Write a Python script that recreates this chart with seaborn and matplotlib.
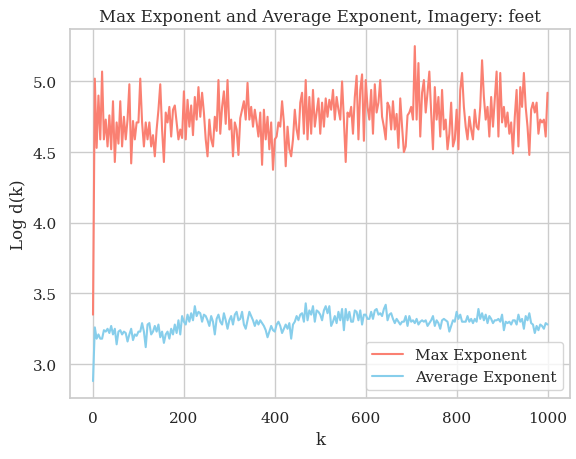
import numpy as np
import pandas as pd
import seaborn as sns
import matplotlib
matplotlib.use("Agg")
import matplotlib.pyplot as plt

# values, one every 4 steps of k
max_exp = [
    # k 0-96
    3.35, 5.02, 4.53, 4.90, 4.59, 5.07, 4.59, 4.73, 4.54, 4.76, 4.52, 4.86, 4.43,
    4.71, 4.56, 4.86, 4.54, 4.75, 4.59, 4.73, 4.98, 4.42, 4.72, 4.59, 4.71,
    # k 100-196
    4.71, 5.02, 4.71, 4.54, 4.71, 4.59, 4.71, 4.54, 4.62, 4.47, 4.66, 4.80, 4.98,
    4.66, 4.43, 4.78, 4.71, 4.82, 4.61, 4.80, 4.83, 4.71, 4.59, 4.66, 4.60,
    # k 200-296
    4.93, 4.59, 4.87, 4.68, 4.83, 4.62, 4.89, 4.73, 4.96, 4.75, 4.92, 4.78, 4.59,
    4.47, 4.73, 4.59, 4.54, 4.75, 4.65, 5.01, 4.63, 4.82, 4.93, 4.70, 5.01,
    # k 300-656
    4.66, 4.73, 4.47, 4.71, 4.66, 4.48, 4.74, 4.80, 4.86, 4.73, 4.99, 4.73, 4.82,
    4.68, 4.80, 4.71, 4.61, 4.78, 4.41, 4.80, 4.59, 4.75, 4.52, 4.71, 4.375,
    4.59, 4.61, 4.71, 4.68, 4.86, 4.71, 4.40, 4.68, 4.52, 4.47, 4.59, 4.80, 4.66,
    4.59, 4.85, 4.92, 4.63, 5.01, 4.59, 4.89, 4.63, 4.94, 4.68, 4.78, 4.88,
    4.63, 4.85, 4.68, 4.88, 4.75, 4.87, 4.80, 4.94, 4.73, 4.89, 4.80, 4.73, 5.00,
    4.73, 4.43, 4.78, 4.75, 4.82, 4.63, 4.89, 5.04, 4.59, 4.94, 5.05, 4.58,
    5.01, 4.82, 4.73, 4.94, 4.63, 4.98, 4.78, 4.85, 5.01, 4.75, 4.68, 4.59, 4.85,
    4.82, 4.66,
    # k 660-1000
    4.86, 4.66, 4.77, 4.53, 4.88, 4.68, 4.50, 4.54, 4.76, 4.78, 4.82, 4.73, 5.25,
    4.73, 5.13, 4.61, 4.92, 5.01, 4.78, 4.92, 5.07, 4.78, 4.52, 4.96, 4.73,
    4.89, 4.61, 4.94, 4.66, 4.73, 4.52, 4.63, 4.85, 4.54, 4.59, 4.80, 4.52, 4.94,
    5.06, 4.82, 4.68, 4.59, 4.75, 4.66, 4.59, 4.80, 4.68, 4.66, 4.82, 5.15,
    4.89, 4.73, 4.82, 4.61, 4.89, 4.68, 4.87, 5.07, 4.61, 5.06, 4.71, 4.82, 4.68,
    4.78, 4.63, 4.71, 4.49, 4.75, 4.94, 4.54, 4.96, 4.82, 5.06, 4.82, 4.68,
    4.48, 4.80, 4.85, 4.78, 4.85, 4.63, 4.73, 4.71, 4.73, 4.61, 4.92,
]

avg_exp = [
    # k 0-524
    2.88, 3.26, 3.18, 3.21, 3.18, 3.18, 3.24, 3.23, 3.25, 3.22, 3.27, 3.21, 3.25,
    3.14, 3.23, 3.24, 3.21, 3.23, 3.22, 3.16, 3.21, 3.25, 3.17, 3.21, 3.20,
    3.23, 3.23, 3.29, 3.23, 3.12, 3.28, 3.29, 3.21, 3.23, 3.27, 3.23, 3.28, 3.19,
    3.23, 3.15, 3.21, 3.23, 3.18, 3.25, 3.21, 3.28, 3.22, 3.31, 3.21, 3.34,
    3.30, 3.28, 3.35, 3.30, 3.36, 3.31, 3.41, 3.34, 3.37, 3.36, 3.30, 3.35, 3.34,
    3.31, 3.27, 3.34, 3.30, 3.21, 3.32, 3.35, 3.30, 3.28, 3.36, 3.31, 3.25,
    3.31, 3.34, 3.28, 3.35, 3.37, 3.31, 3.32, 3.37, 3.28, 3.25, 3.31, 3.37, 3.34,
    3.31, 3.27, 3.31, 3.28, 3.31, 3.29, 3.27, 3.24, 3.19, 3.23, 3.27, 3.24,
    3.23, 3.28, 3.30, 3.27, 3.22, 3.25, 3.28, 3.25, 3.29, 3.18, 3.28, 3.30, 3.34,
    3.31, 3.35, 3.36, 3.30, 3.43, 3.31, 3.38, 3.35, 3.41, 3.30, 3.38, 3.37,
    3.35, 3.31, 3.38, 3.41, 3.36, 3.41, 3.27,
    # k 528-1000
    3.30, 3.34, 3.29, 3.37, 3.31, 3.39, 3.24, 3.39, 3.31, 3.37, 3.30, 3.30, 3.38,
    3.37, 3.31, 3.38, 3.28, 3.35, 3.35, 3.32, 3.32, 3.37, 3.32, 3.38, 3.39,
    3.35, 3.36, 3.34, 3.39, 3.42, 3.31, 3.35, 3.36, 3.32, 3.29, 3.32, 3.30, 3.28,
    3.30, 3.30, 3.34, 3.27, 3.34, 3.30, 3.31, 3.29, 3.32, 3.28, 3.30, 3.31,
    3.30, 3.31, 3.27, 3.29, 3.31, 3.34, 3.27, 3.31, 3.29, 3.25, 3.31, 3.32, 3.31,
    3.30, 3.23, 3.27, 3.31, 3.30, 3.37, 3.32, 3.35, 3.30, 3.30, 3.30, 3.34,
    3.30, 3.32, 3.29, 3.32, 3.30, 3.39, 3.32, 3.36, 3.31, 3.35, 3.29, 3.34, 3.32,
    3.29, 3.31, 3.31, 3.32, 3.30, 3.35, 3.24, 3.30, 3.29, 3.30, 3.28, 3.31,
    3.31, 3.28, 3.35, 3.30, 3.32, 3.25, 3.34, 3.31, 3.36, 3.29, 3.28, 3.22, 3.27,
    3.24, 3.28, 3.27, 3.25, 3.29, 3.28,
]

k_max = np.arange(len(max_exp)) * 4
k_avg = np.arange(len(avg_exp)) * 4

sns.set_theme(style="whitegrid")
plt.rcParams['font.family'] = ['DejaVu Serif']

fig, ax = plt.subplots(figsize=(5.76, 4.6), dpi=100)
fig.subplots_adjust(left=0.122, right=0.99, top=0.934, bottom=0.133)

sns.lineplot(x=k_max, y=max_exp, color="salmon", label="Max Exponent", ax=ax)
sns.lineplot(x=k_avg, y=avg_exp, color="skyblue", label="Average Exponent", ax=ax)

ax.set_title("Max Exponent and Average Exponent, Imagery: feet")
ax.set_xlabel("k")
ax.set_ylabel("Log d(k)")
ax.legend(loc="lower right")

fig.savefig("out.png")
